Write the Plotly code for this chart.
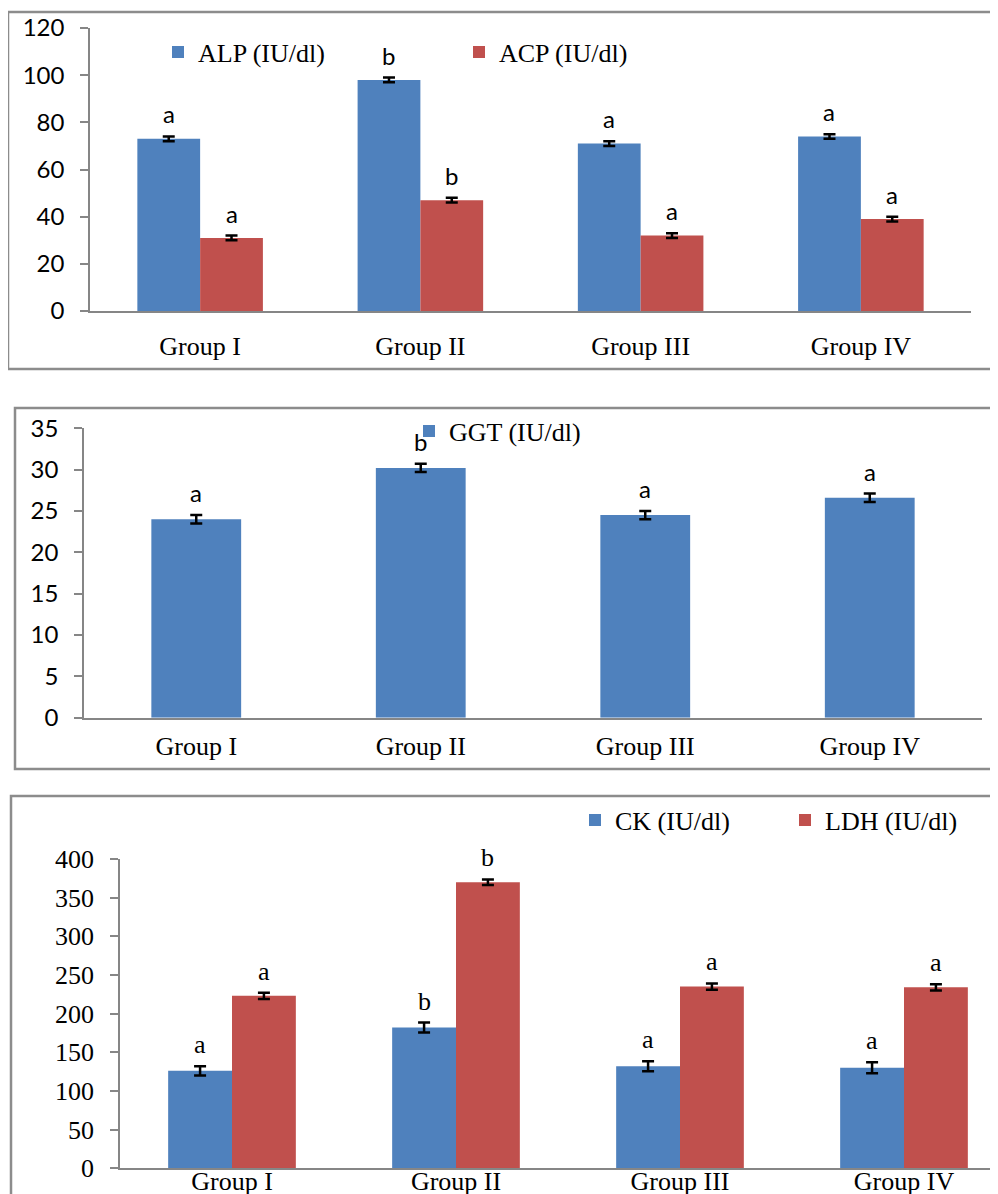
import plotly.graph_objects as go

# The page body has an 8px margin, so the figure is offset by 8px.
OFF = 8
W, H = 998 - OFF, 1194 - OFF

categories = ["Group I", "Group II", "Group III", "Group IV"]

# Panel 1
alp = [73, 98, 71, 74]
alp_err = [1, 1, 1, 1]
alp_sig = ["a", "b", "a", "a"]
acp = [31, 47, 32, 39]
acp_err = [1, 1, 1, 1]
acp_sig = ["a", "b", "a", "a"]

# Panel 2
ggt = [24.0, 30.2, 24.5, 26.6]
ggt_err = [0.5, 0.5, 0.5, 0.5]
ggt_sig = ["a", "b", "a", "a"]

# Panel 3
ck = [126, 182, 132, 130]
ck_err = [6, 6.5, 6.5, 7]
ck_sig = ["a", "b", "a", "a"]
ldh = [223, 370, 235, 234]
ldh_err = [4, 3.5, 4, 4]
ldh_sig = ["a", "b", "a", "a"]

BLUE = "#4F81BD"
RED = "#C0504D"
AXC = "#868686"
FRAME = "#8C8C8C"
SERIF = "Liberation Serif, Times New Roman, serif"
SANS = "Lato, Calibri, sans-serif"


def px_x(p):
    return (p - OFF) / W


def px_y(p):
    return 1 - (p - OFF) / H


fig = go.Figure()

err_style = dict(type="data", visible=True, color="black", thickness=2.5, width=6)

# Panel 1 traces
fig.add_trace(go.Bar(x=categories, y=alp, name="ALP (IU/dl)", marker_color=BLUE,
                     error_y=dict(array=alp_err, **err_style), xaxis="x", yaxis="y",
                     legend="legend", offsetgroup="a1"))
fig.add_trace(go.Bar(x=categories, y=acp, name="ACP (IU/dl)", marker_color=RED,
                     error_y=dict(array=acp_err, **err_style), xaxis="x", yaxis="y",
                     legend="legend", offsetgroup="b1"))
# Panel 2
fig.add_trace(go.Bar(x=categories, y=ggt, name="GGT (IU/dl)", marker_color=BLUE,
                     error_y=dict(array=ggt_err, **err_style), xaxis="x2", yaxis="y2",
                     legend="legend2", width=0.4))
# Panel 3
fig.add_trace(go.Bar(x=categories, y=ck, name="CK (IU/dl)", marker_color=BLUE,
                     error_y=dict(array=ck_err, **err_style), xaxis="x3", yaxis="y3",
                     legend="legend3", offsetgroup="a3"))
fig.add_trace(go.Bar(x=categories, y=ldh, name="LDH (IU/dl)", marker_color=RED,
                     error_y=dict(array=ldh_err, **err_style), xaxis="x3", yaxis="y3",
                     legend="legend3", offsetgroup="b3"))

BARGAP = 0.43
GROUP_W = 1 - BARGAP

annotations = []


def add_letters(vals, errs, sigs, xref, yref, offset, font, yshift):
    for i, (v, e, s) in enumerate(zip(vals, errs, sigs)):
        annotations.append(dict(x=i + offset, y=v + e, xref=xref, yref=yref, text=s,
                                showarrow=False, yanchor="bottom", xanchor="center",
                                yshift=yshift, font=font))


f_sans = dict(family=SANS, size=24, color="black")
f_serif = dict(family=SERIF, size=26, color="black")
add_letters(alp, alp_err, alp_sig, "x", "y", -GROUP_W / 4, f_sans, 6)
add_letters(acp, acp_err, acp_sig, "x", "y", GROUP_W / 4, f_sans, 6)
add_letters(ggt, ggt_err, ggt_sig, "x2", "y2", 0, f_sans, 6)
add_letters(ck, ck_err, ck_sig, "x3", "y3", -GROUP_W / 4, f_serif, 5)
add_letters(ldh, ldh_err, ldh_sig, "x3", "y3", GROUP_W / 4, f_serif, 5)


def yax(domain, rng, dtick, font, anchor):
    return dict(domain=domain, range=rng, dtick=dtick, showline=True, linecolor=AXC,
                linewidth=1.5, ticks="outside", ticklen=8, tickcolor=AXC, tickwidth=1.5,
                showgrid=False, zeroline=False, tickfont=font, ticklabelstandoff=11,
                anchor=anchor, fixedrange=True)


def xax(domain, rng, standoff, anchor):
    return dict(domain=domain, range=rng, showline=True, linecolor=AXC, linewidth=1.5,
                ticks="", showgrid=False, zeroline=False, anchor=anchor,
                tickfont=dict(family=SERIF, size=26, color="black"),
                ticklabelstandoff=standoff, fixedrange=True)


tick_sans = dict(family=SANS, size=24, color="black")
tick_serif = dict(family=SERIF, size=26, color="black")

shapes = [
    dict(type="rect", xref="paper", yref="paper", x0=px_x(8), x1=px_x(1010),
         y0=px_y(369), y1=px_y(12), line=dict(color=FRAME, width=2.5)),
    dict(type="rect", xref="paper", yref="paper", x0=px_x(15), x1=px_x(997),
         y0=px_y(769), y1=px_y(408), line=dict(color=FRAME, width=2.5)),
    dict(type="rect", xref="paper", yref="paper", x0=px_x(11), x1=px_x(1010),
         y0=px_y(1210), y1=px_y(796), line=dict(color=FRAME, width=2.5)),
]

leg_font = dict(family=SERIF, size=26, color="black")

fig.update_layout(
    width=W, height=H, margin=dict(l=0, r=0, t=0, b=0),
    paper_bgcolor="white", plot_bgcolor="white", template="none",
    barmode="group", bargap=BARGAP, bargroupgap=0,
    xaxis=xax([px_x(90), px_x(971)], [-0.5, 3.5], 11, "y"),
    yaxis=yax([px_y(311), px_y(28)], [0, 120], 20, tick_sans, "x"),
    xaxis2=xax([px_x(84), px_x(982)], [-0.5, 3.5], 4, "y2"),
    yaxis2=yax([px_y(717.7), px_y(428.3)], [0, 35], 5, tick_sans, "x2"),
    xaxis3=xax([px_x(120), 1], [-0.5, -0.5 + (998 - 120) / 224], -11, "y3"),
    yaxis3=yax([px_y(1168.3), px_y(859)], [0, 400], 50, tick_serif, "x3"),
    showlegend=True,
    legend=dict(orientation="h", x=px_x(198 - 40), y=px_y(52), xanchor="left",
                yanchor="middle", font=leg_font, entrywidth=256, entrywidthmode="pixels",
                bgcolor="rgba(0,0,0,0)"),
    legend2=dict(orientation="h", x=px_x(449 - 40), y=px_y(431), xanchor="left",
                 yanchor="middle", font=leg_font, bgcolor="rgba(0,0,0,0)"),
    legend3=dict(orientation="h", x=px_x(615 - 40), y=px_y(820), xanchor="left",
                 yanchor="middle", font=leg_font, entrywidth=165, entrywidthmode="pixels",
                 bgcolor="rgba(0,0,0,0)"),
    annotations=annotations,
    shapes=shapes,
)

fig.write_html("out.html")
